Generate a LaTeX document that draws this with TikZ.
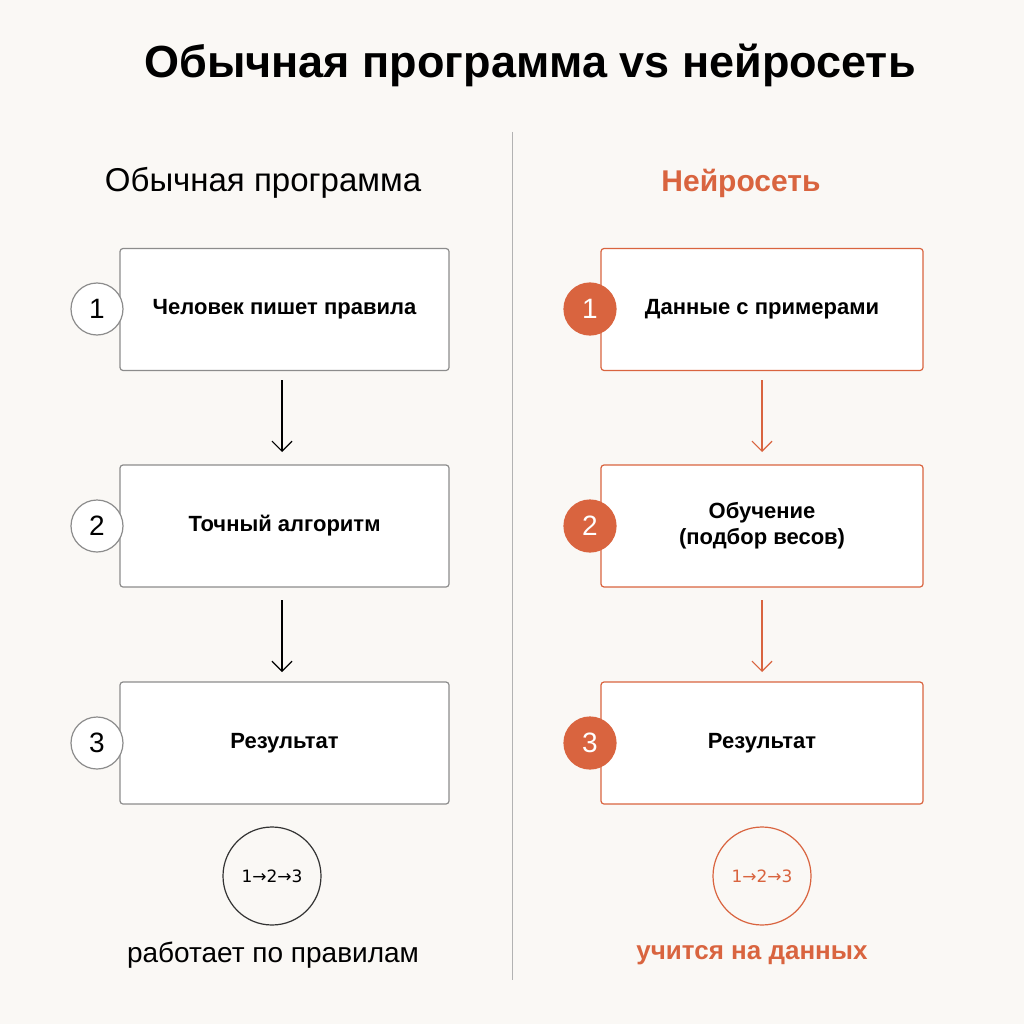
\documentclass[tikz,border=0pt]{standalone}
\usepackage{fontspec}
\setmainfont{Liberation Sans}
\newfontfamily\arrowfont{DejaVu Sans}
\usetikzlibrary{positioning,arrows.meta}
\begin{document}
\begin{tikzpicture}[x=1pt,y=-1pt]
        %colores
        \definecolor{fondo}{HTML}{FAF8F5}
        \definecolor{naranja}{HTML}{D9643F}
        \colorlet{gris}{black!45}
        \tikzset{
            caja/.style={draw=gris,line width=1.2pt,rounded corners=3pt,fill=white,minimum width=329pt,minimum height=122pt,font=\fontsize{22}{26}\selectfont\bfseries,align=center},
            cajaN/.style={caja,draw=naranja,minimum width=322pt},
            num/.style={circle,draw=gris,line width=1.2pt,fill=white,minimum size=52pt,inner sep=0pt,font=\fontsize{28}{30}\selectfont},
            numN/.style={num,draw=naranja,fill=naranja,text=white},
            flecha/.style={-{Straight Barb[length=10pt,width=20pt]},line width=1.2pt},
            resumen/.style={circle,line width=1.2pt,minimum size=98pt,inner sep=0pt,font=\arrowfont\fontsize{17}{20}\selectfont}
        }
        \fill[fondo] (0,0) rectangle (1024,1024);
        \useasboundingbox (0,0) rectangle (1024,1024);

        % titulos
        \node (titulo) at (530,65) {\fontsize{45}{50}\selectfont\bfseries Обычная программа vs нейросеть};
        \draw[black!30,line width=1pt] (512,132) -- (512,980);
        \node (cabI) at (263,183) {\fontsize{33}{36}\selectfont Обычная программа};
        \node[text=naranja] (cabD) at (741,183) {\fontsize{30}{34}\selectfont\bfseries Нейросеть};

        % columna izquierda
        \node[caja] (i1) at (284.5,309.5) {Человек пишет правила};
        \node[caja] (i2) at (284.5,526) {Точный алгоритм};
        \node[caja] (i3) at (284.5,743) {Результат};
        \foreach \n/\y in {1/309,2/526,3/743}
            \node[num] (ni\n) at (97,\y) {\n};
        \draw[flecha] (282,380) coordinate (a1) -- (282,452) coordinate (b1);
        \draw[flecha] (282,600) coordinate (a2) -- (282,672) coordinate (b2);
        \node[resumen,draw=black!80] (ri) at (272,876) {1→2→3};
        \node (ti) at (273,955) {\fontsize{28}{32}\selectfont работает по правилам};

        % columna derecha
        \node[cajaN] (d1) at (762,309.5) {Данные с примерами};
        \node[cajaN] (d2) at (762,526) {Обучение\\(подбор весов)};
        \node[cajaN] (d3) at (762,743) {Результат};
        \foreach \n/\y in {1/309,2/526,3/743}
            \node[numN] (nd\n) at (590,\y) {\n};
        \draw[flecha,naranja] (762,380) -- (762,452);
        \draw[flecha,naranja] (762,600) -- (762,672);
        \node[resumen,draw=naranja,text=naranja] (rd) at (762,876) {1→2→3};
        \node[text=naranja] (td) at (752,955) {\fontsize{26}{30}\selectfont\bfseries учится на данных};
    \end{tikzpicture}
\end{document}
